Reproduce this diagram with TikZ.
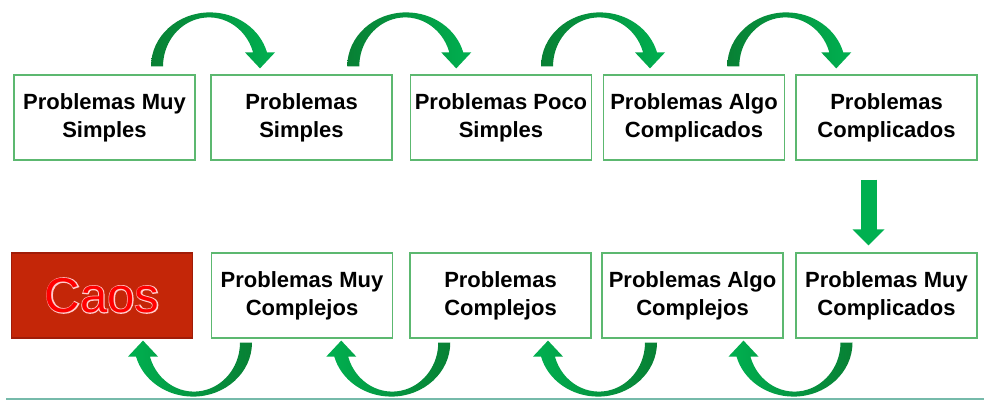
\documentclass[tikz,border=0pt]{standalone}
\usepackage{fontspec}
\setmainfont{Liberation Sans}
\newfontfamily\caosborde[FakeBold=4]{Liberation Sans}
\usetikzlibrary{arrows.meta,calc}
\definecolor{verdeborde}{RGB}{92,184,112}
\definecolor{verdeclaro}{RGB}{0,176,80}
\definecolor{verdeoscuro}{RGB}{8,128,52}
\definecolor{rojocaja}{RGB}{196,38,8}
\definecolor{rojoborde}{RGB}{160,28,8}
\definecolor{rosa}{RGB}{255,205,205}
\definecolor{lineafondo}{RGB}{118,186,170}
\tikzset{
    caja/.style={draw=verdeborde, line width=1.2pt, minimum width=181pt, minimum height=85pt,
        inner sep=0pt, align=center, font=\fontsize{22}{28}\selectfont\bfseries},
    cajacaos/.style={caja, draw=rojoborde, fill=rojocaja},
    bajada/.style={verdeclaro, line width=16pt, -{Triangle[width=31pt,length=16pt]}},
    pics/flecha/.style 2 args={code={
        \shade[left color=#1, right color=#2]
            (-59,0) arc[start angle=180, end angle=15, x radius=59pt, y radius=54pt]
            -- (65,14) -- (50,-2) -- (35,14) -- (43.1,14)
            arc[start angle=16.6, end angle=180, x radius=46pt, y radius=49pt] -- cycle;
    }}
}
\begin{document}
\begin{tikzpicture}[x=1pt,y=1pt]
    \useasboundingbox (0,0) rectangle (984,401);
    % fila de arriba
    \foreach \i/\x/\txt in {1/104.5/{Problemas Muy\\Simples}, 2/301.5/{Problemas\\Simples}, 3/501/{Problemas Poco\\Simples}, 4/694/{Problemas Algo\\Complicados}, 5/886.5/{Problemas\\Complicados}} {
        \node[caja] (p\i) at (\x, 283.5) {\txt};
    }
    % fila de abajo
    \node[cajacaos, font=\caosborde\mdseries\fontsize{49}{54}\selectfont] (q1) at (102, 105.5) {\textcolor{rosa}{Caos}};
    \node[text=red, inner sep=0pt, font=\mdseries\fontsize{49}{54}\selectfont] (caos) at (q1.center) {Caos};
    \foreach \i/\x/\txt in {2/302/{Problemas Muy\\Complejos}, 3/500.5/{Problemas\\Complejos}, 4/692.5/{Problemas Algo\\Complejos}, 5/886.5/{Problemas Muy\\Complicados}} {
        \node[caja] (q\i) at (\x, 105.5) {\txt};
    }
    % flechas curvas
    \foreach \a/\b/\dx in {1/2/7, 2/3/5, 3/4/2.5, 4/5/-4} {
        \pic at ($(p\a.north east)!.5!(p\b.north west)+(\dx,8)$) {flecha={verdeoscuro}{verdeclaro}};
    }
    \foreach \a/\b/\dx in {1/2/-9, 2/3/-10, 3/4/1.5, 4/5/4} {
        \pic[rotate=180] at ($(q\a.south east)!.5!(q\b.south west)+(\dx,-4)$) {flecha={verdeclaro}{verdeoscuro}};
    }
    \draw[bajada] ($(p5.south)+(-18,-19)$) -- ($(q5.north)+(-18,7)$);
    \draw[lineafondo, line width=2pt] (6,1.5) -- (984,1.5);
\end{tikzpicture}
\end{document}
